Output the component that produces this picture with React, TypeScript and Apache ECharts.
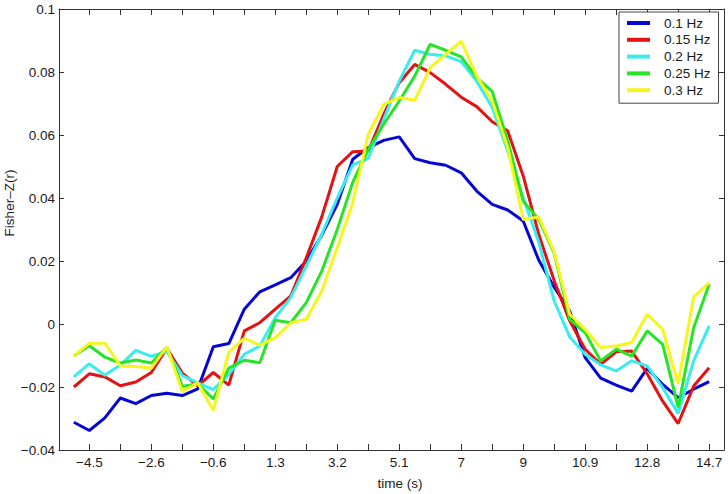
import React, { useEffect, useRef } from "react";
import * as echarts from "echarts";

const FONT = "'Liberation Sans', Arial, Helvetica, sans-serif";

// time (s) of each sample
const times = [
  -4.98, -4.5, -4.02, -3.54, -3.06, -2.58, -2.1, -1.62, -1.14, -0.66, -0.18,
  0.3, 0.78, 1.26, 1.74, 2.22, 2.7, 3.18, 3.66, 4.14, 4.62, 5.1, 5.58, 6.06,
  6.54, 7.02, 7.5, 7.98, 8.46, 8.94, 9.42, 9.9, 10.38, 10.86, 11.34, 11.82,
  12.3, 12.78, 13.26, 13.74, 14.22, 14.7,
];

const seriesNames = ["0.1 Hz", "0.15 Hz", "0.2 Hz", "0.25 Hz", "0.3 Hz"];
const seriesColors = ["#0606d2", "#e41212", "#38ecf0", "#26e426", "#f6f61e"];

const hz010 = [
  -0.0312, -0.0338, -0.0298, -0.0235, -0.0253, -0.0227, -0.022, -0.0227, -0.0206, -0.0072, -0.0062,
  0.0047, 0.0102, 0.0124, 0.0147, 0.02, 0.0282, 0.038, 0.0523, 0.056, 0.0583,
  0.0594, 0.0525, 0.0512, 0.0504, 0.048, 0.0422, 0.038, 0.0362, 0.0327, 0.0203,
  0.0117, 0.0041, -0.0107, -0.0172, -0.0194, -0.0213, -0.0141, -0.0192, -0.0234, -0.0207, -0.0183,
];
const hz015 = [
  -0.02, -0.0158, -0.0168, -0.0196, -0.0184, -0.0154, -0.0077, -0.0156, -0.0196, -0.0154, -0.0194,
  -0.0022, 0.0004, 0.0047, 0.0089, 0.021, 0.034, 0.05, 0.0547, 0.0549, 0.0666,
  0.0766, 0.0824, 0.0798, 0.0761, 0.072, 0.069, 0.0642, 0.0613, 0.047, 0.0285,
  0.0137, 0.001, -0.008, -0.0128, -0.0088, -0.0086, -0.0158, -0.0245, -0.0316, -0.0197, -0.0139,
];
const hz020 = [
  -0.0168, -0.0126, -0.0163, -0.013, -0.0084, -0.0103, -0.0087, -0.0164, -0.0187, -0.0208, -0.016,
  -0.0096, -0.007, 0.002, 0.0084, 0.0184, 0.0285, 0.04, 0.0505, 0.0526, 0.065,
  0.0771, 0.0869, 0.0856, 0.0851, 0.0833, 0.0771, 0.0687, 0.0549, 0.0401, 0.026,
  0.0073, -0.0041, -0.0096, -0.013, -0.0149, -0.0117, -0.0133, -0.0202, -0.0284, -0.0117, -0.0006,
];
const hz025 = [
  -0.0101, -0.0069, -0.0105, -0.0124, -0.0114, -0.0124, -0.0074, -0.0198, -0.019, -0.0238, -0.014,
  -0.0115, -0.0123, 0.0012, 0.0004, 0.0068, 0.0168, 0.03, 0.045, 0.0554, 0.0634,
  0.0708, 0.0787, 0.0888, 0.0869, 0.0848, 0.0782, 0.0738, 0.0581, 0.039, 0.0332,
  0.0225, 0.0015, -0.0028, -0.0117, -0.008, -0.0102, -0.0022, -0.0065, -0.0265, -0.0012, 0.0126,
];
const hz030 = [
  -0.0101, -0.0061, -0.0061, -0.0133, -0.0135, -0.014, -0.0072, -0.0214, -0.0187, -0.0274, -0.0089,
  -0.0046, -0.0067, -0.0043, 0.0004, 0.0015, 0.0105, 0.0242, 0.0385, 0.0602, 0.0697,
  0.0719, 0.071, 0.0814, 0.0856, 0.0898, 0.0787, 0.0708, 0.056, 0.0332, 0.034,
  0.0229, 0.0031, -0.0017, -0.0075, -0.007, -0.0059, 0.0031, -0.0017, -0.019, 0.0086, 0.0131,
];
const allSeries = [hz010, hz015, hz020, hz025, hz030];

// x ticks (every second sample) and labelled ticks
const xTickValues = [
  -4.5, -3.54, -2.58, -1.62, -0.66, 0.3, 1.26, 2.22, 3.18, 4.14, 5.1, 6.06,
  7.02, 7.98, 8.94, 9.9, 10.86, 11.82, 12.78, 13.74, 14.7,
];
const xLabelValues = [-4.5, -2.58, -0.66, 1.26, 3.18, 5.1, 7.02, 8.94, 10.86, 12.78, 14.7];
const xLabelTexts = ["−4.5", "−2.6", "−0.6", "1.3", "3.2", "5.1", "7", "9", "10.9", "12.8", "14.7"];

const yLabelValues = [-0.04, -0.02, 0, 0.02, 0.04, 0.06, 0.08, 0.1];
const yLabelTexts = ["−0.04", "−0.02", "0", "0.02", "0.04", "0.06", "0.08", "0.1"];

const xName = "time (s)";
const yName = "Fisher–Z(r)";

function lookup(values: number[], texts: string[], v: number) {
  for (let i = 0; i < values.length; i++) {
    if (Math.abs(values[i] - v) < 1e-6) return texts[i];
  }
  return "";
}

export default function App() {
  const ref = useRef<HTMLDivElement>(null);
  useEffect(() => {
    if (!ref.current) return;
    const chart = echarts.init(ref.current, undefined, { renderer: "svg" });
    const axisColor = "#333333";
    const textColor = "#1a1a1a";
    const fs = 13.5;
    const xMin = -5.44;
    const xMax = 15.16;
    const option: any = {
      animation: false,
      backgroundColor: "#ffffff",
      grid: { left: 59, right: 4, top: 9, bottom: 44, containLabel: false },
      legend: {
        data: seriesNames,
        orient: "vertical",
        left: 619,
        top: 12,
        padding: [4, 8, 6, 8],
        itemWidth: 23,
        itemHeight: 4,
        itemGap: 2.8,
        icon: "rect",
        borderColor: "#444",
        borderWidth: 1,
        borderRadius: 0,
        backgroundColor: "#fff",
        textStyle: { fontSize: fs, fontFamily: FONT, color: textColor, lineHeight: 13, padding: [0, 0, 0, 9] },
      },
      xAxis: [
        {
          type: "value",
          min: xMin,
          max: xMax,
          position: "bottom",
          splitLine: { show: false },
          axisLine: { show: true, onZero: false, lineStyle: { color: axisColor, width: 1 } },
          axisTick: { show: true, inside: true, length: 6, customValues: xTickValues, lineStyle: { color: axisColor, width: 1 } },
          axisLabel: {
            show: true,
            customValues: xLabelValues,
            margin: 5,
            fontSize: fs,
            fontFamily: FONT,
            color: textColor,
            formatter: (v: number) => lookup(xLabelValues, xLabelTexts, v),
          },
        },
        {
          type: "value",
          min: xMin,
          max: xMax,
          position: "top",
          splitLine: { show: false },
          axisLine: { show: true, onZero: false, lineStyle: { color: axisColor, width: 1 } },
          axisTick: { show: true, inside: true, length: 6, customValues: xTickValues, lineStyle: { color: axisColor, width: 1 } },
          axisLabel: { show: false },
        },
      ],
      yAxis: [
        {
          type: "value",
          min: -0.04,
          max: 0.1,
          interval: 0.02,
          position: "left",
          splitLine: { show: false },
          axisLine: { show: true, onZero: false, lineStyle: { color: axisColor, width: 1 } },
          axisTick: { show: true, inside: true, length: 5, lineStyle: { color: axisColor, width: 1 } },
          axisLabel: {
            show: true,
            margin: 4,
            fontSize: fs,
            fontFamily: FONT,
            color: textColor,
            formatter: (v: number) => lookup(yLabelValues, yLabelTexts, v),
          },
        },
        {
          type: "value",
          min: -0.04,
          max: 0.1,
          interval: 0.02,
          position: "right",
          splitLine: { show: false },
          axisLine: { show: true, onZero: false, lineStyle: { color: axisColor, width: 1 } },
          axisTick: { show: true, inside: true, length: 5, lineStyle: { color: axisColor, width: 1 } },
          axisLabel: { show: false },
        },
      ],
      series: allSeries.map((vals, k) => ({
        name: seriesNames[k],
        type: "line",
        xAxisIndex: 0,
        yAxisIndex: 0,
        data: vals.map((v, i) => [times[i], v]),
        symbol: "none",
        showSymbol: false,
        lineStyle: { width: 3, color: seriesColors[k] },
        itemStyle: { color: seriesColors[k] },
        emphasis: { disabled: true },
      })),
      graphic: [
        {
          type: "text",
          x: 400,
          y: 483,
          style: {
            text: xName,
            fontSize: fs,
            fontFamily: FONT,
            fill: textColor,
            textAlign: "center",
            textVerticalAlign: "middle",
          },
        },
        {
          type: "text",
          x: 9,
          y: 203,
          rotation: Math.PI / 2,
          style: {
            text: yName,
            fontSize: fs,
            fontFamily: FONT,
            fill: textColor,
            textAlign: "center",
            textVerticalAlign: "middle",
          },
        },
      ],
    };
    chart.setOption(option);
    return () => chart.dispose();
  }, []);
  return (
    <div
      ref={ref}
      style={{ position: "fixed", left: 0, top: 0, width: 728, height: 494, background: "#fff" }}
    />
  );
}
